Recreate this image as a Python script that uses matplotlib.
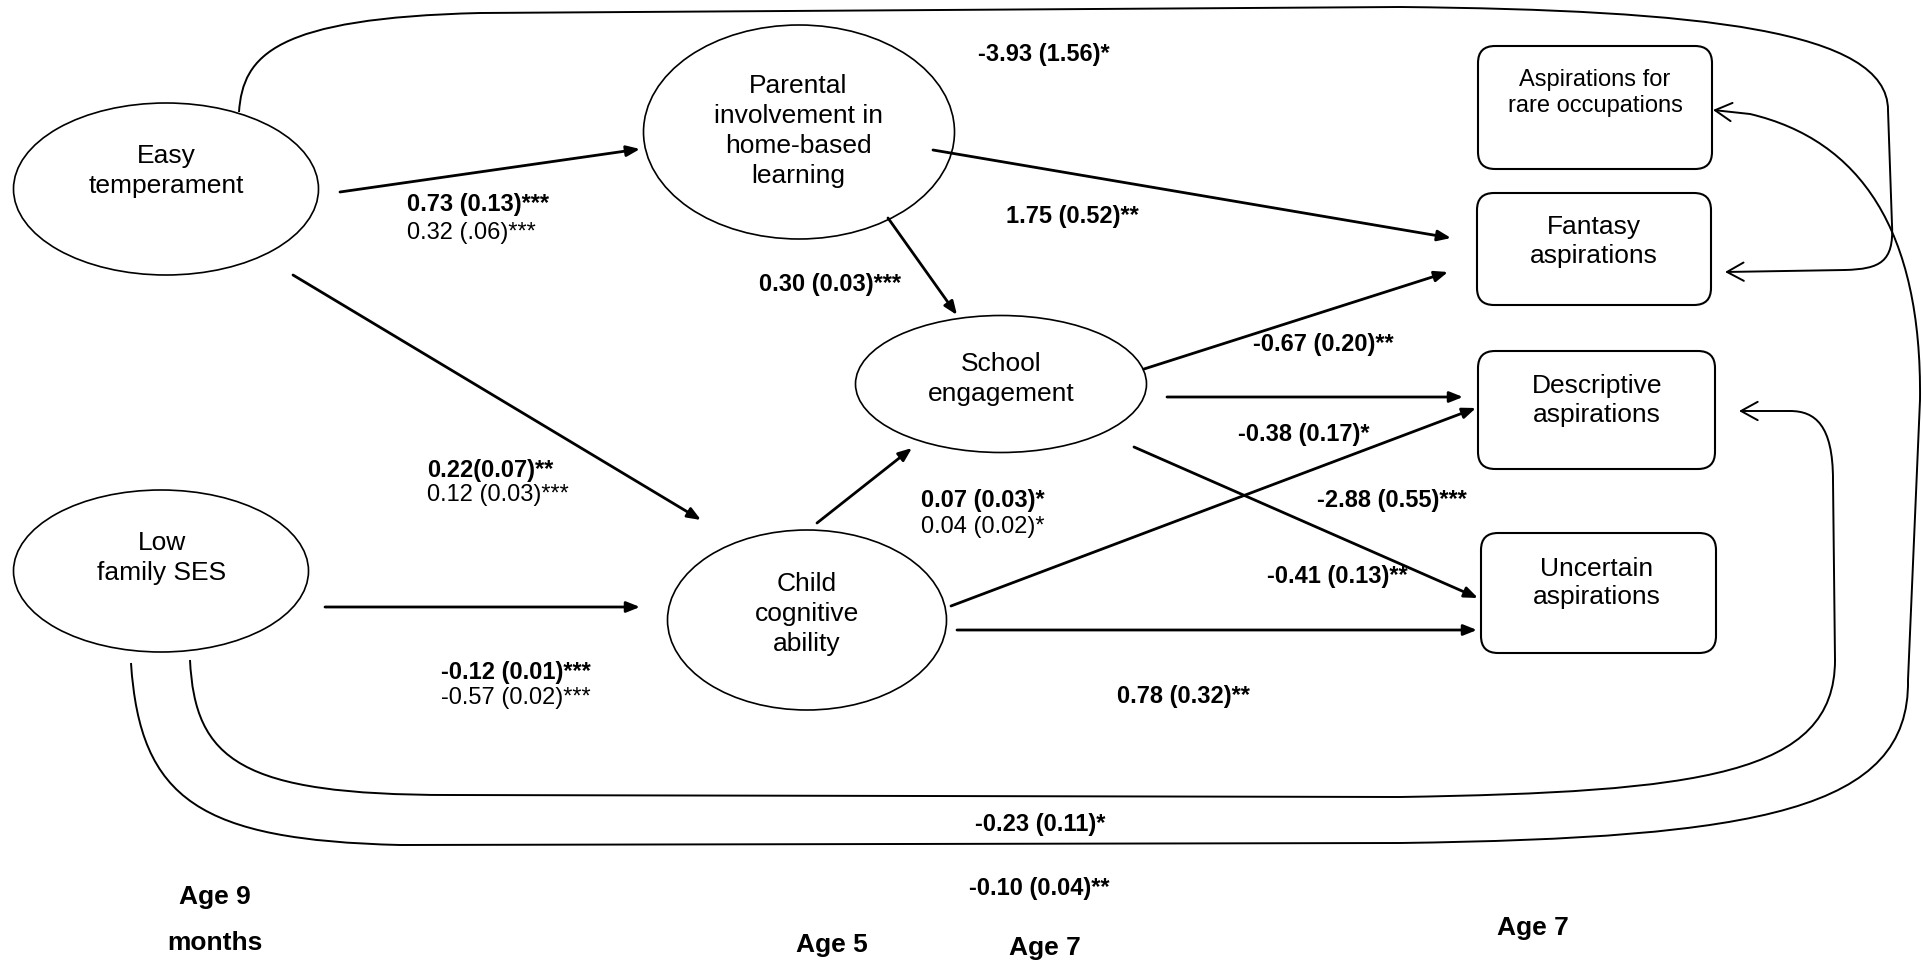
import matplotlib
matplotlib.use("Agg")
import matplotlib.pyplot as plt
from matplotlib.patches import Ellipse, FancyBboxPatch, FancyArrowPatch, PathPatch
from matplotlib.path import Path

plt.rcParams["font.family"] = ["Liberation Sans", "DejaVu Sans"]

# --- diagram content -------------------------------------------------------
ellipse_labels = [
    ["Easy", "temperament"],
    ["Parental", "involvement in", "home-based", "learning"],
    ["School", "engagement"],
    ["Child", "cognitive", "ability"],
    ["Low", "family SES"],
]
box_labels = [
    ["Aspirations for", "rare occupations"],
    ["Fantasy", "aspirations"],
    ["Descriptive", "aspirations"],
    ["Uncertain", "aspirations"],
]
bold_coefs = [
    "0.73 (0.13)***", "0.30 (0.03)***", "0.22(0.07)**", "-0.12 (0.01)***",
    "-3.93 (1.56)*", "1.75 (0.52)**", "-0.67 (0.20)**", "-0.38 (0.17)*",
    "-2.88 (0.55)***", "-0.41 (0.13)**", "0.07 (0.03)*", "0.78 (0.32)**",
    "-0.23 (0.11)*", "-0.10 (0.04)**",
]
light_coefs = ["0.32 (.06)***", "0.12 (0.03)***", "-0.57 (0.02)***", "0.04 (0.02)*"]
age_labels = ["Age 9", "months", "Age 5", "Age 7", "Age 7"]

# --- layout (pixel coordinates, y downwards) -------------------------------
ellipse_geom = [(166, 189, 305, 172), (799, 132, 311, 214), (1001, 384, 291, 137),
                (807, 620, 279, 180), (161, 571, 295, 162)]
ellipse_text = [(166, 163), (798, 93), (1001, 371), (807, 591), (162, 550)]

box_geom = [(1478, 46, 1712, 169), (1477, 193, 1711, 305),
            (1478, 351, 1715, 469), (1481, 533, 1716, 653)]
box_text = [(1595, 86, 26, 17), (1594, 234, 29, 19),
            (1597, 393, 29, 19), (1597, 576, 28, 19)]

bold_pos = [(407, 205), (759, 285), (427, 471), (441, 672), (978, 54), (1006, 217),
            (1253, 345), (1238, 434), (1317, 501), (1267, 576), (921, 500),
            (1117, 697), (975, 825), (969, 888)]
light_pos = [(407, 233), (427, 495), (441, 698), (921, 527)]
age_pos = [(215, 897), (215, 943), (832, 945), (1045, 948), (1533, 928)]

straight_arrows = [
    ((340, 192), (640, 149)),    # easy -> parental
    ((293, 275), (701, 520)),    # easy -> child
    ((325, 607), (640, 607)),    # low SES -> child
    ((888, 218), (957, 315)),    # parental -> school
    ((933, 150), (1451, 238)),   # parental -> fantasy
    ((817, 523), (912, 448)),    # child -> school
    ((1144, 369), (1448, 272)),  # school -> fantasy
    ((1167, 397), (1463, 397)),  # school -> descriptive
    ((951, 606), (1476, 408)),   # child -> descriptive
    ((1134, 447), (1478, 598)),  # school -> uncertain
    ((957, 630), (1477, 630)),   # child -> uncertain
]

M, L, C = Path.MOVETO, Path.LINETO, Path.CURVE4
curves = [
    # easy temperament -> fantasy (over the top)
    ([(239, 112), (243, 55), (275, 18), (480, 13), (1400, 7),
      (1700, 10), (1888, 30), (1888, 110), (1892, 225),
      (1894, 262), (1880, 269), (1845, 270), (1725, 272)],
     [M, C, C, C, L, C, C, C, L, C, C, C, L]),
    # low SES -> descriptive (inner loop)
    ([(190, 660), (195, 760), (240, 795), (450, 795), (1400, 797),
      (1700, 792), (1835, 775), (1835, 660), (1833, 480),
      (1833, 425), (1815, 411), (1790, 411), (1739, 411)],
     [M, C, C, C, L, C, C, C, L, C, C, C, L]),
    # low SES -> rare occupations (outer loop)
    ([(131, 663), (140, 800), (200, 840), (400, 845), (1400, 843),
      (1760, 838), (1910, 810), (1908, 680), (1920, 400),
      (1922, 230), (1860, 140), (1750, 114), (1713, 110)],
     [M, C, C, C, L, C, C, C, L, C, C, C, L]),
]

fig = plt.figure(figsize=(19.23, 9.63), dpi=100)
ax = fig.add_axes([0, 0, 1, 1])
ax.set_xlim(0, 1923)
ax.set_ylim(963, 0)
ax.axis("off")

for (cx, cy, w, h), (tx, ty), lines in zip(ellipse_geom, ellipse_text, ellipse_labels):
    ax.add_patch(Ellipse((cx, cy), w, h, fill=False, lw=1.2, ec="black"))
    for i, s in enumerate(lines):
        ax.text(tx, ty + 30 * i, s, ha="center", va="baseline", fontsize=19)

for (x0, y0, x1, y1), (tx, ty, step, fs), lines in zip(box_geom, box_text, box_labels):
    ax.add_patch(FancyBboxPatch((x0, y0), x1 - x0, y1 - y0,
                                boxstyle="round,pad=0,rounding_size=17",
                                fill=False, lw=1.5, ec="black"))
    for i, s in enumerate(lines):
        ax.text(tx, ty + step * i, s, ha="center", va="baseline", fontsize=fs)

for a, b in straight_arrows:
    ax.add_patch(FancyArrowPatch(a, b, arrowstyle="-|>,head_length=0.8,head_width=0.32",
                                 mutation_scale=10, lw=2, color="black",
                                 shrinkA=0, shrinkB=0))

for verts, codes in curves:
    ax.add_patch(PathPatch(Path(verts[:-1], codes[:-1]), fill=False, lw=1.4, ec="black"))
    ax.add_patch(FancyArrowPatch(verts[-2], verts[-1],
                                 arrowstyle="->,head_length=1.2,head_width=0.66",
                                 mutation_scale=10, lw=1.4, color="black",
                                 shrinkA=0, shrinkB=0))

for s, (x, y) in zip(bold_coefs, bold_pos):
    ax.text(x, y, s, ha="left", va="center", fontsize=17, fontweight="bold")
for s, (x, y) in zip(light_coefs, light_pos):
    ax.text(x, y, s, ha="left", va="center", fontsize=17)
for s, (x, y) in zip(age_labels, age_pos):
    ax.text(x, y, s, ha="center", va="center", fontsize=19, fontweight="bold")

fig.savefig("out.png", dpi=100)
